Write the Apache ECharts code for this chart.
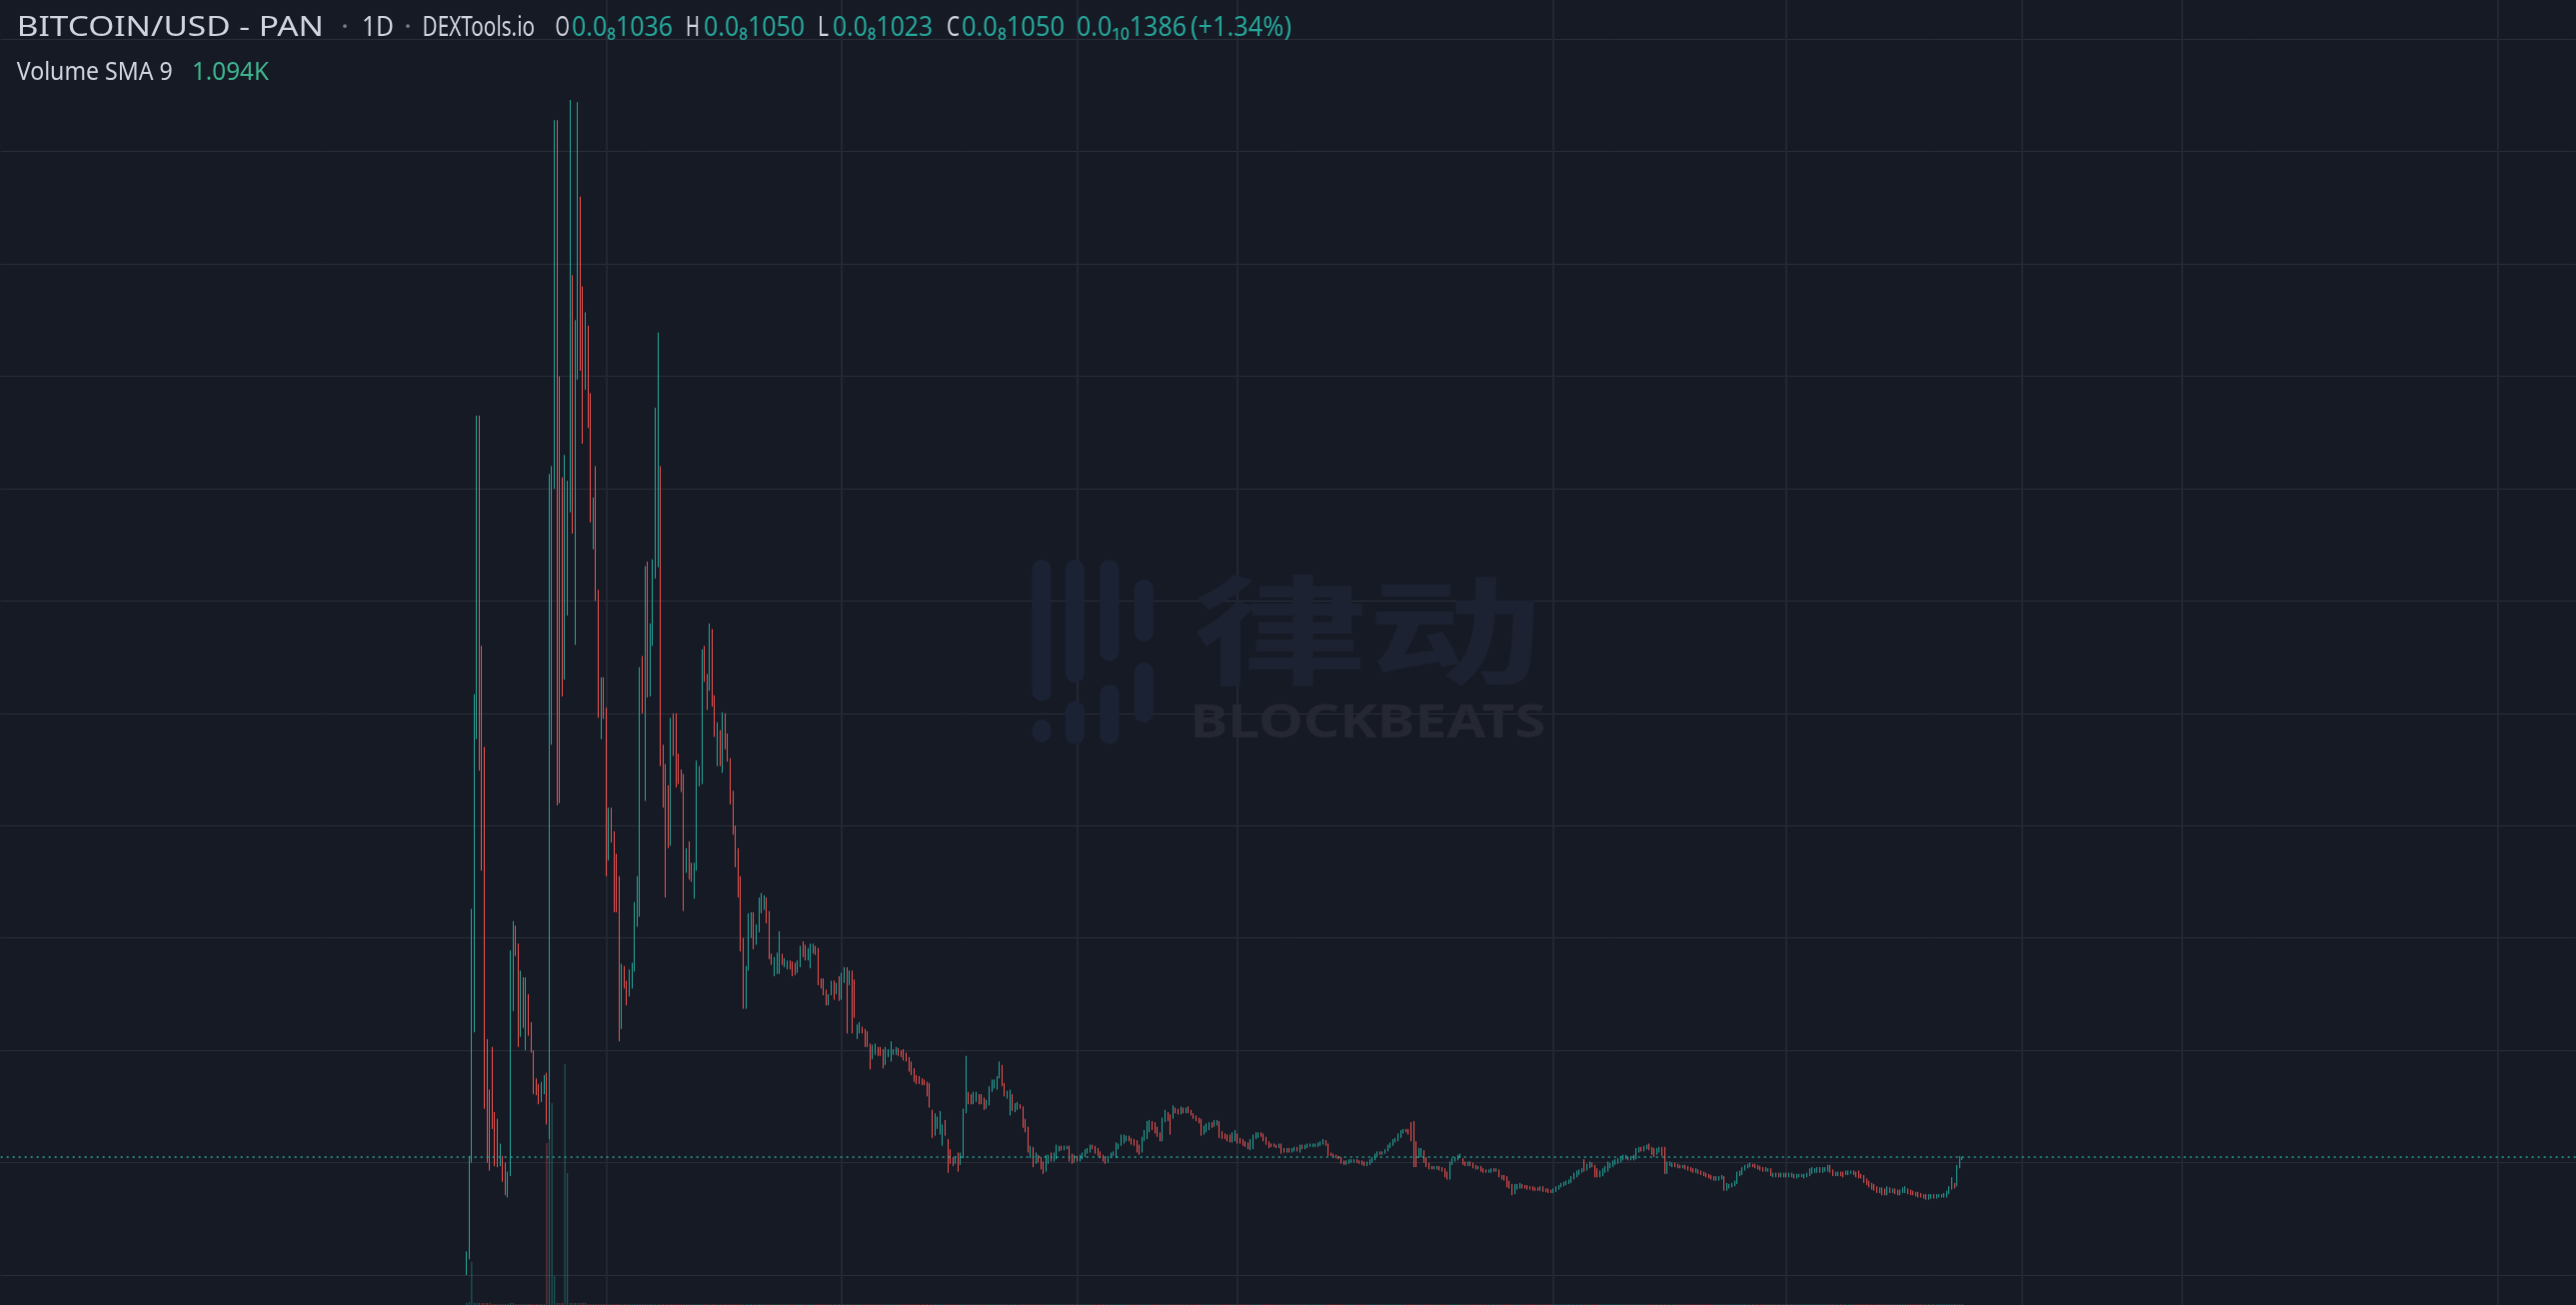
<!DOCTYPE html>
<html>
<head>
<meta charset="utf-8">
<script src="https://cdn.jsdelivr.net/npm/echarts@6/dist/echarts.min.js"></script>
<style>
html,body{margin:0;padding:0;background:#161a25;overflow:hidden;}
#chart{width:2577px;height:1306px;}
</style>
</head>
<body>
<div id="chart"></div>
<script>
// ---------------- DATA (prices in units of 1e-9 USD, i.e. 0.0₈xxxx) ----------------
const axisStart = '2023-05-12';      // first day shown at left edge
const axisDays = 996;                // daily slots across the visible time range
const firstCandleDate = '2023-11-08';
const gridDates = ['2024-01-01','2024-04-01','2024-07-01','2024-09-01','2025-01-01','2025-04-01','2025-07-01','2025-09-01','2026-01-01'];
const priceTicks = [0,1,2,3,4,5,6,7,8,9,10,11];
const lastClose = 1.050;

// [open, close, low, high]
const candlesLaunch = [
[0.02,0.20,0.00,0.21],[0.85,1.05,0.14,1.06],[1.05,3.20,1.00,3.26],[3.20,5.10,2.16,5.17],[4.80,7.60,4.77,7.65],[7.60,4.50,4.49,7.65],[5.56,3.70,3.60,5.60],[4.67,3.70,1.48,4.70],
[2.06,1.65,1.00,2.10],[1.65,1.20,0.93,1.65],[1.90,1.33,1.30,2.03],[1.45,1.10,0.97,1.45],[1.39,1.00,0.96,1.39],[1.00,1.17,0.97,1.17],[1.06,0.85,0.83,1.06],[0.95,0.72,0.71,1.00],
[0.72,0.90,0.69,0.92],[0.90,2.85,0.88,2.89],[2.80,3.10,2.35,3.15],[3.10,2.85,2.84,3.11],[2.95,2.20,2.03,2.95],[2.20,2.60,2.12,2.71],[2.60,2.28,2.20,2.65],[2.28,2.60,2.00,2.65],
[2.44,2.15,2.13,2.50],[2.22,2.00,1.98,2.25],[2.00,1.70,1.61,2.00],[1.72,1.62,1.60,1.75],[1.68,1.55,1.52,1.70],[1.55,1.70,1.54,1.72],[1.65,1.77,1.61,1.78],[1.78,1.40,1.34,1.80],
[1.40,7.10,1.21,7.13],[4.75,7.10,4.72,7.20],[7.10,9.90,7.00,10.28],[9.90,5.10,4.18,10.28],[5.20,4.90,4.20,8.00],[7.07,5.20,5.15,7.10],[5.33,7.29,5.30,7.30],[5.90,7.00,5.87,7.07],
[6.80,8.90,6.79,10.46],[8.85,6.67,6.60,8.90],[6.70,8.50,5.61,8.50],[8.50,9.50,7.97,10.44],[8.90,8.10,8.05,9.60],[8.77,7.50,7.40,8.80],[7.90,8.50,7.88,8.57],[8.44,7.55,7.54,8.45],
[7.82,6.70,6.70,7.85],[6.50,6.90,6.46,6.92],[7.17,6.00,6.00,7.20],[6.00,5.00,4.96,6.10],[4.80,5.30,4.77,5.32],[5.30,5.00,4.95,5.32],[5.05,3.60,3.55,5.05],[3.70,4.10,3.69,4.16],
[4.10,3.90,3.85,4.16],[3.94,3.30,3.23,3.95],[3.73,3.30,3.23,3.75],[3.51,2.10,2.08,3.55],[2.20,2.75,2.19,2.77],[2.72,2.60,2.55,2.75],[2.60,2.45,2.40,2.62],[2.50,2.70,2.48,2.72],
[2.60,2.75,2.55,2.78],[2.75,3.30,2.70,3.32],[3.20,3.50,3.10,3.55],[3.30,5.40,3.19,5.41],[5.51,5.10,5.00,5.51],[4.30,6.30,4.22,6.31],[6.34,5.20,5.14,6.35],[5.16,5.70,5.15,5.80],
[5.60,6.37,5.60,6.37],[6.30,7.70,6.20,7.72],[6.40,8.30,6.30,8.39],[7.19,4.55,4.53,7.20]
];
const candlesSlide = [
[4.70,4.20,4.16,4.72],[4.50,3.40,3.36,4.55],[4.35,3.85,3.80,4.36],[3.85,4.90,3.82,4.96],[5.00,4.65,4.62,5.00],[4.95,4.40,4.34,5.00],[4.62,4.40,4.37,4.64],[4.45,4.35,4.30,4.50],
[4.40,3.30,3.24,4.46],[3.60,3.79,3.58,3.80],[3.86,3.55,3.52,3.86],[3.67,3.55,3.50,3.67],[3.40,3.65,3.35,3.67],[3.65,4.50,3.60,4.58],[4.35,4.50,4.35,4.53],[4.40,5.50,4.37,5.57],
[5.58,5.30,5.28,5.60],[5.30,5.06,5.03,5.35],[5.21,5.70,5.20,5.80],[5.70,5.10,5.06,5.75],[5.15,4.80,4.79,5.16],[4.60,4.90,4.53,4.92],[4.84,4.60,4.53,4.85],[4.55,5.00,4.47,5.01],
[5.00,4.72,4.68,5.00],[4.80,4.60,4.57,4.82],[4.59,4.20,4.19,4.60],[4.30,3.95,3.92,4.31],[3.99,3.76,3.63,4.00],[3.76,3.40,3.36,3.80],[3.50,2.95,2.88,3.55],[2.95,2.50,2.37,3.00],
[2.40,2.73,2.37,2.75],[2.72,3.20,2.71,3.22],[3.05,3.22,3.00,3.23],[3.20,2.92,2.90,3.23],[2.95,3.10,2.94,3.12],[3.08,3.34,3.05,3.36],[3.25,3.36,3.22,3.40],[3.30,3.36,3.25,3.38],
[3.35,3.15,3.13,3.36],[3.15,2.83,2.81,3.24],[2.84,2.78,2.76,2.86],[2.70,2.82,2.66,2.83],[2.75,2.86,2.68,2.87],[2.80,3.05,2.68,3.06],[2.85,2.78,2.76,2.86],[2.76,2.81,2.74,2.82],
[2.74,2.78,2.72,2.80],[2.79,2.74,2.72,2.80],[2.78,2.67,2.66,2.79],[2.76,2.69,2.67,2.78],[2.70,2.79,2.69,2.80],[2.76,2.92,2.74,2.93],[2.95,2.84,2.83,2.97],[2.92,2.81,2.80,2.94],
[2.82,2.90,2.80,2.91],[2.75,2.94,2.73,2.95],[2.88,2.94,2.86,2.95],[2.92,2.87,2.85,2.93],[2.90,2.60,2.58,2.91],[2.63,2.58,2.55,2.64],[2.63,2.50,2.49,2.64],[2.52,2.42,2.40,2.54],
[2.42,2.49,2.40,2.50],[2.50,2.61,2.49,2.62],[2.61,2.47,2.45,2.62],[2.52,2.59,2.50,2.60],[2.64,2.46,2.44,2.66],[2.47,2.68,2.45,2.69],[2.62,2.73,2.60,2.74],[2.73,2.17,2.15,2.74],
[2.60,2.62,2.58,2.71],[2.70,2.17,2.15,2.71],[2.60,2.30,2.29,2.63],[2.12,2.22,2.10,2.23],[2.17,2.23,2.15,2.25],[2.20,2.16,2.15,2.21],[2.18,2.05,2.03,2.19],[2.16,2.04,2.03,2.17],
[2.05,1.84,1.83,2.06],[1.93,2.04,1.92,2.05],[1.98,2.05,1.96,2.06],[2.02,1.97,1.95,2.03],[2.02,1.96,1.95,2.03],[2.00,1.85,1.84,2.01],[1.88,2.02,1.87,2.03],[1.95,2.00,1.94,2.01],
[1.92,2.07,1.90,2.08],[1.97,2.00,1.96,2.01],[1.97,2.02,1.96,2.03],[2.01,1.96,1.95,2.02],[1.99,1.95,1.94,2.00],[2.00,1.92,1.91,2.01],[1.96,1.92,1.90,1.98],[1.93,1.82,1.81,1.94],
[1.88,1.80,1.78,1.90],[1.83,1.73,1.72,1.84],[1.77,1.71,1.70,1.78],[1.76,1.71,1.70,1.77],[1.74,1.70,1.69,1.75],[1.73,1.70,1.69,1.74],[1.71,1.60,1.59,1.72],[1.70,1.50,1.49,1.71],
[1.45,1.24,1.22,1.47],[1.26,1.43,1.24,1.44],[1.32,1.40,1.30,1.41],[1.26,1.45,1.25,1.46],[1.16,1.33,1.15,1.34],[1.37,1.25,1.24,1.38],[1.20,0.93,0.91,1.21],[1.11,1.00,0.99,1.12],
[1.04,0.98,0.97,1.05],[1.00,1.04,0.99,1.06],[1.08,0.93,0.92,1.09],[0.99,1.08,0.98,1.09],[1.05,1.47,1.04,1.48],[1.45,1.60,1.44,1.95],[1.62,1.53,1.52,1.63],[1.60,1.53,1.52,1.61],
[1.53,1.62,1.52,1.63],[1.55,1.62,1.54,1.63],[1.60,1.58,1.52,1.61],[1.60,1.53,1.52,1.61],[1.57,1.48,1.47,1.58],[1.49,1.55,1.48,1.56],[1.52,1.67,1.51,1.68],[1.64,1.73,1.63,1.74],
[1.70,1.73,1.66,1.74],[1.66,1.76,1.65,1.77],[1.76,1.88,1.75,1.90]
];
const candlesDrift = [
[1.80,1.69,1.68,1.87],[1.70,1.60,1.59,1.71],[1.60,1.63,1.57,1.64],[1.45,1.64,1.42,1.65],[1.60,1.50,1.46,1.61],[1.47,1.52,1.45,1.53],[1.48,1.52,1.47,1.54],[1.51,1.49,1.48,1.52],
[1.49,1.33,1.31,1.50],[1.38,1.28,1.27,1.39],[1.31,1.10,1.09,1.32],[1.05,1.14,1.04,1.15],[1.13,0.97,0.96,1.14],[1.00,1.08,0.99,1.09],[1.06,1.04,1.00,1.07],[1.04,0.95,0.94,1.05],
[1.00,0.91,0.90,1.01],[0.93,1.06,0.92,1.07],[1.00,1.06,0.99,1.07],[1.08,1.02,1.01,1.09],[1.02,1.08,1.01,1.09],[1.04,1.15,1.03,1.16],[1.11,1.14,1.10,1.15],[1.14,1.12,1.11,1.15],
[1.12,1.14,1.11,1.15],[1.13,1.14,1.12,1.15],[1.14,1.02,1.01,1.15],[1.07,1.00,0.99,1.08],[1.01,1.06,1.00,1.07],[1.05,1.02,1.01,1.06],[1.02,1.06,1.01,1.07],[1.04,1.08,1.03,1.09],
[1.06,1.11,1.05,1.12],[1.09,1.12,1.08,1.13],[1.10,1.15,1.09,1.16],[1.15,1.13,1.12,1.16],[1.14,1.09,1.08,1.15],[1.12,1.07,1.06,1.13],[1.09,1.05,1.04,1.10],[1.06,1.02,1.01,1.07],
[1.04,1.00,0.99,1.05],[1.01,1.05,1.00,1.06],[1.05,1.08,1.04,1.09],[1.07,1.09,1.06,1.10],[1.05,1.17,1.04,1.18],[1.13,1.16,1.12,1.17],[1.16,1.24,1.15,1.25],[1.18,1.24,1.17,1.25],
[1.20,1.23,1.19,1.24],[1.23,1.20,1.19,1.24],[1.21,1.17,1.16,1.22],[1.20,1.16,1.15,1.21],[1.19,1.10,1.09,1.20],[1.15,1.08,1.07,1.16],[1.10,1.22,1.09,1.23],[1.20,1.28,1.19,1.29],
[1.22,1.36,1.21,1.37],[1.28,1.37,1.27,1.38],[1.36,1.30,1.29,1.37],[1.35,1.27,1.26,1.36],[1.31,1.24,1.23,1.32],[1.26,1.20,1.19,1.27],[1.20,1.39,1.19,1.40],[1.37,1.46,1.36,1.47],
[1.44,1.38,1.37,1.45],[1.42,1.26,1.25,1.43],[1.40,1.50,1.39,1.51],[1.48,1.45,1.44,1.49],[1.47,1.44,1.43,1.48],[1.44,1.49,1.43,1.50],[1.48,1.45,1.44,1.49],[1.45,1.48,1.44,1.49],
[1.49,1.45,1.44,1.50],[1.46,1.43,1.42,1.47],[1.43,1.40,1.39,1.44],[1.41,1.38,1.37,1.42],[1.39,1.36,1.35,1.40],[1.38,1.25,1.24,1.39],[1.26,1.32,1.25,1.33],[1.28,1.34,1.27,1.35],
[1.30,1.35,1.29,1.36],[1.35,1.32,1.31,1.36],[1.33,1.37,1.32,1.38],[1.34,1.37,1.33,1.38],[1.36,1.23,1.22,1.37],[1.27,1.22,1.21,1.28],[1.25,1.22,1.21,1.26],[1.24,1.20,1.19,1.25],
[1.24,1.19,1.18,1.25],[1.19,1.26,1.18,1.27],[1.20,1.28,1.19,1.29],[1.25,1.18,1.17,1.26],[1.21,1.18,1.17,1.22],[1.20,1.16,1.15,1.21],[1.18,1.15,1.14,1.19],[1.17,1.13,1.12,1.18],
[1.12,1.20,1.11,1.21],[1.16,1.24,1.12,1.25],[1.22,1.26,1.21,1.27],[1.23,1.26,1.22,1.27],[1.26,1.24,1.23,1.27],[1.25,1.20,1.19,1.26],[1.22,1.17,1.16,1.23],[1.18,1.15,1.13,1.19],
[1.16,1.15,1.14,1.17],[1.16,1.15,1.14,1.17],[1.15,1.14,1.13,1.16],[1.14,1.16,1.13,1.17],[1.16,1.10,1.08,1.17],[1.12,1.10,1.09,1.13],[1.10,1.12,1.09,1.13],[1.12,1.10,1.09,1.13],
[1.10,1.12,1.09,1.13],[1.11,1.13,1.10,1.14],[1.13,1.11,1.10,1.14],[1.10,1.15,1.09,1.16],[1.15,1.13,1.12,1.16],[1.13,1.15,1.12,1.16],[1.14,1.16,1.13,1.17],[1.15,1.16,1.14,1.17],
[1.15,1.16,1.14,1.17],[1.15,1.16,1.14,1.17],[1.15,1.17,1.14,1.18],[1.16,1.18,1.15,1.19],[1.17,1.20,1.16,1.21],[1.19,1.16,1.15,1.20],[1.16,1.07,1.06,1.17],[1.08,1.07,1.06,1.09],
[1.07,1.06,1.05,1.08],[1.06,1.05,1.04,1.07],[1.05,1.04,1.03,1.06],[1.04,1.00,0.99,1.05],[1.01,0.99,0.98,1.02],[0.99,1.01,0.98,1.02],[1.00,1.02,0.99,1.03],[1.01,1.02,1.00,1.03],
[1.01,1.02,1.00,1.03],[1.02,1.01,1.00,1.03],[1.01,1.00,0.99,1.02],[1.01,0.99,0.98,1.02],[1.00,0.98,0.97,1.01],[0.98,1.00,0.97,1.01],[0.99,1.02,0.98,1.03],[1.01,1.04,1.00,1.05],
[1.03,1.07,1.02,1.08],[1.06,1.09,1.05,1.10],[1.09,1.08,1.07,1.10],[1.08,1.09,1.07,1.10],[1.09,1.11,1.08,1.12],[1.11,1.15,1.10,1.16],[1.14,1.17,1.13,1.18],[1.16,1.20,1.15,1.21],
[1.19,1.21,1.18,1.22],[1.20,1.25,1.19,1.26],[1.23,1.28,1.22,1.29],[1.27,1.29,1.26,1.30],[1.29,1.28,1.27,1.30],[1.29,1.26,1.25,1.30],[1.27,1.20,1.19,1.36],[1.36,0.97,0.96,1.37],
[1.18,1.00,0.96,1.19],[1.05,1.12,1.04,1.13],[1.06,1.12,1.05,1.13],[1.10,1.04,1.00,1.11],[1.04,0.98,0.96,1.05],[0.99,0.95,0.94,1.00],[0.96,0.95,0.94,0.97],[0.95,0.96,0.94,0.97],
[0.95,0.96,0.94,0.97],[0.96,0.95,0.93,0.97],[0.95,0.93,0.92,0.96],[0.94,0.88,0.87,0.95],[0.91,0.86,0.85,0.92],[0.86,1.00,0.85,1.01],[0.99,1.03,0.98,1.04],[1.02,1.04,1.01,1.05],
[1.03,1.06,1.02,1.07],[1.05,1.07,1.04,1.08],[1.03,0.99,0.98,1.04],[1.00,0.98,0.97,1.01],[0.98,1.00,0.97,1.01],[1.00,0.98,0.97,1.01],[0.99,0.96,0.95,1.00],[0.97,0.95,0.94,0.98],
[0.95,0.96,0.94,0.97],[0.96,0.93,0.92,0.97],[0.94,0.92,0.91,0.95],[0.93,0.92,0.91,0.94],[0.92,0.93,0.91,0.94],[0.92,0.94,0.91,0.95],[0.94,0.93,0.92,0.95],[0.93,0.94,0.92,0.95]
];
const candlesBase = [
[0.93,0.88,0.87,0.94],[0.88,0.86,0.85,0.89],[0.88,0.85,0.84,0.89],[0.87,0.79,0.78,0.88],[0.83,0.78,0.77,0.84],[0.80,0.72,0.71,0.81],[0.73,0.80,0.72,0.81],[0.77,0.80,0.76,0.81],
[0.78,0.81,0.77,0.82],[0.80,0.78,0.77,0.81],[0.79,0.78,0.77,0.80],[0.79,0.77,0.76,0.80],[0.78,0.77,0.76,0.79],[0.78,0.76,0.75,0.79],[0.77,0.76,0.75,0.78],[0.77,0.76,0.75,0.78],
[0.76,0.78,0.75,0.79],[0.78,0.75,0.74,0.79],[0.76,0.75,0.74,0.77],[0.76,0.74,0.73,0.77],[0.75,0.74,0.73,0.76],[0.74,0.76,0.73,0.77],[0.75,0.78,0.74,0.79],[0.77,0.79,0.76,0.80],
[0.79,0.81,0.78,0.82],[0.80,0.82,0.79,0.83],[0.81,0.83,0.80,0.84],[0.82,0.84,0.81,0.85],[0.83,0.87,0.82,0.88],[0.86,0.90,0.85,0.91],[0.88,0.92,0.87,0.93],[0.90,0.93,0.89,0.94],
[0.92,0.94,0.91,0.95],[1.02,0.93,0.92,1.03],[0.94,0.98,0.93,0.99],[0.96,1.00,0.95,1.01],[0.99,0.97,0.96,1.00],[0.97,0.88,0.87,0.98],[0.94,0.88,0.87,0.95],[0.88,0.92,0.87,0.93],
[0.89,0.94,0.88,0.95],[0.92,0.96,0.91,0.97],[0.93,1.00,0.92,1.01],[0.96,0.99,0.95,1.00],[0.97,1.01,0.96,1.02],[0.99,1.02,0.98,1.03],[1.00,1.03,0.99,1.04],[1.01,1.05,1.00,1.06],
[1.03,1.06,1.02,1.07],[1.04,1.06,1.03,1.07],[1.04,1.03,1.02,1.05],[1.03,1.05,1.02,1.06],[1.03,1.06,1.02,1.07],[1.04,1.12,1.03,1.13],[1.10,1.13,1.09,1.14],[1.13,1.11,1.10,1.14],
[1.11,1.14,1.10,1.15],[1.13,1.15,1.12,1.16],[1.16,1.12,1.11,1.17],[1.13,1.08,1.07,1.14],[1.12,1.06,1.05,1.13],[1.08,1.12,1.07,1.13],[1.10,1.13,1.09,1.14],[1.13,1.07,1.06,1.14],
[1.13,0.92,0.90,1.14],[0.91,1.00,0.90,1.01],[0.98,1.00,0.97,1.01],[0.97,0.99,0.96,1.00],[0.99,0.97,0.96,1.00],[0.98,0.96,0.95,0.99],[0.97,0.96,0.95,0.98],[0.96,0.97,0.95,0.98],
[0.97,0.95,0.94,0.98],[0.96,0.94,0.93,0.97],[0.95,0.93,0.92,0.96],[0.94,0.92,0.91,0.95],[0.92,0.94,0.91,0.95],[0.93,0.91,0.90,0.94],[0.92,0.90,0.89,0.93],[0.91,0.89,0.88,0.92],
[0.90,0.88,0.87,0.91],[0.89,0.87,0.86,0.90],[0.88,0.86,0.85,0.89],[0.87,0.85,0.84,0.88],[0.85,0.87,0.84,0.88],[0.85,0.87,0.84,0.88],[0.86,0.88,0.85,0.89],[0.87,0.76,0.75,0.88],
[0.76,0.81,0.75,0.82],[0.78,0.80,0.77,0.81],[0.79,0.81,0.78,0.82],[0.80,0.83,0.79,0.84],[0.82,0.91,0.81,0.92],[0.89,0.92,0.88,0.93],[0.90,0.95,0.89,0.96],[0.94,0.97,0.93,0.98],
[0.96,0.98,0.95,0.99],[0.97,0.99,0.96,1.00],[0.98,0.97,0.96,0.99],[0.98,0.96,0.95,0.99],[0.97,0.95,0.94,0.98],[0.96,0.94,0.93,0.97],[0.95,0.93,0.92,0.96],[0.93,0.95,0.92,0.96],
[0.93,0.94,0.92,0.95],[0.94,0.89,0.88,0.95],[0.88,0.90,0.87,0.91],[0.88,0.90,0.87,0.91],[0.90,0.88,0.87,0.91],[0.88,0.90,0.87,0.91],[0.88,0.90,0.87,0.91],[0.90,0.88,0.87,0.91],
[0.88,0.90,0.87,0.91],[0.88,0.90,0.87,0.91],[0.89,0.87,0.86,0.90],[0.87,0.89,0.86,0.90],[0.88,0.89,0.87,0.90],[0.88,0.89,0.87,0.90],[0.87,0.89,0.86,0.90],[0.88,0.90,0.87,0.91],
[0.89,0.94,0.88,0.95],[0.91,0.95,0.90,0.96],[0.92,0.94,0.91,0.95],[0.92,0.95,0.91,0.96],[0.95,0.92,0.91,0.96],[0.92,0.95,0.91,0.96],[0.93,0.95,0.92,0.96],[0.93,0.97,0.92,0.98],
[0.97,0.92,0.91,0.98],[0.93,0.89,0.88,0.94],[0.89,0.91,0.88,0.92],[0.89,0.91,0.88,0.92],[0.91,0.89,0.88,0.92],[0.91,0.88,0.87,0.92],[0.90,0.92,0.89,0.93],[0.90,0.92,0.89,0.93],
[0.91,0.92,0.90,0.93],[0.92,0.90,0.89,0.93],[0.91,0.88,0.87,0.92],[0.92,0.87,0.86,0.93],[0.88,0.87,0.86,0.90],[0.88,0.83,0.82,0.89],[0.85,0.81,0.80,0.86],[0.83,0.79,0.78,0.84],
[0.81,0.77,0.76,0.82],[0.80,0.76,0.75,0.81],[0.78,0.74,0.73,0.79],[0.74,0.77,0.73,0.78],[0.77,0.72,0.71,0.78],[0.76,0.72,0.71,0.77],[0.72,0.78,0.71,0.79],[0.77,0.75,0.73,0.78],
[0.74,0.76,0.73,0.77],[0.76,0.73,0.72,0.77],[0.75,0.72,0.71,0.76],[0.72,0.75,0.71,0.76],[0.74,0.77,0.73,0.78],[0.74,0.78,0.73,0.79],[0.76,0.73,0.72,0.77],[0.75,0.72,0.71,0.76],
[0.74,0.72,0.71,0.75],[0.73,0.71,0.70,0.74],[0.73,0.70,0.69,0.74],[0.72,0.70,0.69,0.73],[0.71,0.69,0.68,0.72],[0.71,0.68,0.67,0.72],[0.68,0.71,0.67,0.72],[0.69,0.71,0.68,0.72],
[0.71,0.69,0.68,0.72],[0.69,0.71,0.68,0.72],[0.70,0.71,0.69,0.72],[0.70,0.71,0.69,0.72],[0.70,0.72,0.69,0.73],[0.70,0.74,0.69,0.75],[0.73,0.78,0.72,0.79],[0.77,0.86,0.76,0.87],
[0.81,0.78,0.77,0.82],[0.80,0.97,0.79,0.98],[0.97,1.036,0.95,1.06],[1.036,1.050,1.023,1.050]
];

// daily volume in thousands (K); only the launch-period spikes are tall enough to see
const volumeLaunch = [2,3,43,2,2,2,2,2,2,2,1,1,1,1,1,1,1,2,2,1,1,1,1,1,1,1,1,1,1,1,1,162,166,202,29,2,2,2,241,132,2,2,2,2,2,2,2,1,1,1,1,1,1,1,1,1,1,1,1,1,1,1,1,1,1,1,1,1,1,1,1,1,1,1,1,1];
const volumeLater = 1.1; // typical late-period daily volume (K), ~1px at this scale

// header texts
const headerTitle = 'BITCOIN/USD - PAN';
const headerInterval = '1D';
const headerSource = 'DEXTools.io';
const ohlcLabels = ['O','H','L','C'];
const ohlcValues = ['0.0\u20881036','0.0\u20881050','0.0\u20881023','0.0\u20881050'];
const changeValue = '0.0\u2081\u20801386';
const changePct = '(+1.34%)';
const volumeLabel = 'Volume SMA 9';
const volumeValue = '1.094K';

// ---------------- BUILD ----------------
const UP = '#26a69a', DOWN = '#ef5350';
function addDays(s, n){ const d = new Date(s + 'T00:00:00Z'); d.setUTCDate(d.getUTCDate() + n); return d.toISOString().slice(0,10); }
const dates = [];
for (let k = 0; k < axisDays; k++) dates.push(addDays(axisStart, k));
const offset = dates.indexOf(firstCandleDate);
const candles = candlesLaunch.concat(candlesSlide, candlesDrift, candlesBase);
const candleData = candles.map((c, i) => [offset + i, c[0], c[1], c[2], c[3]]);
const volumes = candles.map((c, i) => i < volumeLaunch.length ? volumeLaunch[i] : volumeLater);
const volData = candles.map((c, i) => ({ value: [offset + i, volumes[i]], itemStyle: { color: c[1] >= c[0] ? 'rgba(38,166,154,0.55)' : 'rgba(239,83,80,0.55)' } }));

const GL = 0.67, GW = 2576.1;

// text fitting helper
const mctx = document.createElement('canvas').getContext('2d');
function textW(t, font){ mctx.font = font; return mctx.measureText(t).width; }
const FONT = 'Noto Sans';
const fontTitle = '28px "' + FONT + '"';
const fontVol = '25px "' + FONT + '"';
const hdrY = 28, volY = 73;
function piece(text, x0, x1, color, y, font){
  const w = textW(text, font);
  return { type: 'text', x: x0, y: y, scaleX: (x1 - x0) / w, z: 100,
    style: { text: text, font: font, fill: color, textAlign: 'left', textVerticalAlign: 'middle', align: 'left', verticalAlign: 'middle' } };
}
const TXT = '#d1d4dc', DIM = '#787b86';
const header = [
  piece(headerTitle, 16.8, 324, TXT, hdrY, fontTitle),
  piece('\u00b7', 341, 349, DIM, hdrY, fontTitle),
  piece(headerInterval, 362, 394, TXT, hdrY, fontTitle),
  piece('\u00b7', 404, 412, DIM, hdrY, fontTitle),
  piece(headerSource, 422.6, 535, TXT, hdrY, fontTitle),
  piece(ohlcLabels[0], 555.6, 570, TXT, hdrY, fontTitle),
  piece(ohlcValues[0], 572, 673, UP, hdrY, fontTitle),
  piece(ohlcLabels[1], 686, 700, TXT, hdrY, fontTitle),
  piece(ohlcValues[1], 704, 805, UP, hdrY, fontTitle),
  piece(ohlcLabels[2], 818, 829, TXT, hdrY, fontTitle),
  piece(ohlcValues[2], 833, 933, UP, hdrY, fontTitle),
  piece(ohlcLabels[3], 947, 960, TXT, hdrY, fontTitle),
  piece(ohlcValues[3], 962, 1065, UP, hdrY, fontTitle),
  piece(changeValue, 1077, 1187, UP, hdrY, fontTitle),
  piece(changePct, 1191, 1292, UP, hdrY, fontTitle),
  piece(volumeLabel, 16.8, 172.6, TXT, volY, fontVol),
  piece(volumeValue, 192, 269, '#3fb58f', volY, fontVol)
];

// watermark (BlockBeats logo)
const WM = '#1b2234', WMT = '#1d2232', WME = '#252833';
function pill(x, y0, y1, w){ return { type: 'rect', z: 1, shape: { x: x, y: y0, width: w, height: y1 - y0, r: w / 2 }, style: { fill: WM } }; }
const wmFontCN = 'bold 118px "Noto Sans CJK SC"';
const wmFontEN = 'bold 46px "Noto Sans"';
const watermark = [
  pill(1032.5, 560, 701.7, 19.2), { type: 'ellipse', z: 1, shape: { cx: 1042.1, cy: 731.5, rx: 9.6, ry: 11.5 }, style: { fill: WM } },
  pill(1065.8, 560, 683.3, 19.2), pill(1065.8, 701.7, 745, 19.2),
  pill(1100.3, 560, 661.7, 19.2), pill(1100.3, 685, 745, 19.2),
  pill(1134.7, 580, 641.7, 19.2), pill(1134.7, 663.3, 723.3, 19.2),
  { type: 'text', z: 1, x: 1193, y: 631, scaleX: 350 / textW('律动', wmFontCN),
    style: { text: '律动', font: wmFontCN, fill: WMT, textAlign: 'left', textVerticalAlign: 'middle', align: 'left', verticalAlign: 'middle' } },
  { type: 'text', z: 1, x: 1190.6, y: 725, scaleX: 356 / textW('BLOCKBEATS', wmFontEN),
    style: { text: 'BLOCKBEATS', font: wmFontEN, fill: WME, textAlign: 'left', textVerticalAlign: 'middle', align: 'left', verticalAlign: 'middle' } }
];

const hiddenAxis = { axisLine: { show: false }, axisTick: { show: false }, axisLabel: { show: false } };
const chart = echarts.init(document.getElementById('chart'), null, { renderer: 'canvas', width: 2577, height: 1306 });
chart.setOption({
  backgroundColor: '#161a25',
  animation: false,
  grid: [
    { left: GL, width: GW, top: 39.3, height: 1236.7 },
    { left: GL, width: GW, top: 0, height: 1306 }
  ],
  xAxis: [
    Object.assign({ type: 'category', gridIndex: 0, data: dates, boundaryGap: false, splitLine: { show: false } }, hiddenAxis),
    Object.assign({ type: 'category', gridIndex: 1, data: dates, boundaryGap: false,
      splitLine: { show: true, interval: (i, v) => gridDates.indexOf(v) >= 0, lineStyle: { color: '#232734', width: 2 } } }, hiddenAxis)
  ],
  yAxis: [
    Object.assign({ type: 'value', gridIndex: 0, min: priceTicks[0], max: priceTicks[priceTicks.length - 1], interval: 1,
      splitLine: { show: true, lineStyle: { color: '#2a2e39', width: 1 } } }, hiddenAxis),
    Object.assign({ type: 'value', gridIndex: 1, min: 0, max: 1306, splitLine: { show: false } }, hiddenAxis)
  ],
  series: [
    { type: 'bar', xAxisIndex: 1, yAxisIndex: 1, data: volData, barWidth: 1, z: 1, silent: true },
    { type: 'candlestick', xAxisIndex: 0, yAxisIndex: 0, data: candleData, encode: { x: 0, y: [1, 2, 3, 4] },
      barWidth: 1.3, z: 3, silent: true,
      itemStyle: { color: UP, color0: DOWN, borderColor: UP, borderColor0: DOWN, borderWidth: 1 },
      markLine: { silent: true, symbol: ['none', 'none'], label: { show: false },
        lineStyle: { color: UP, type: [2, 4], width: 1.5, opacity: 1 }, emphasis: { disabled: true },
        data: [{ yAxis: lastClose }] } }
  ],
  graphic: watermark.concat(header)
});
</script>
</body>
</html>
